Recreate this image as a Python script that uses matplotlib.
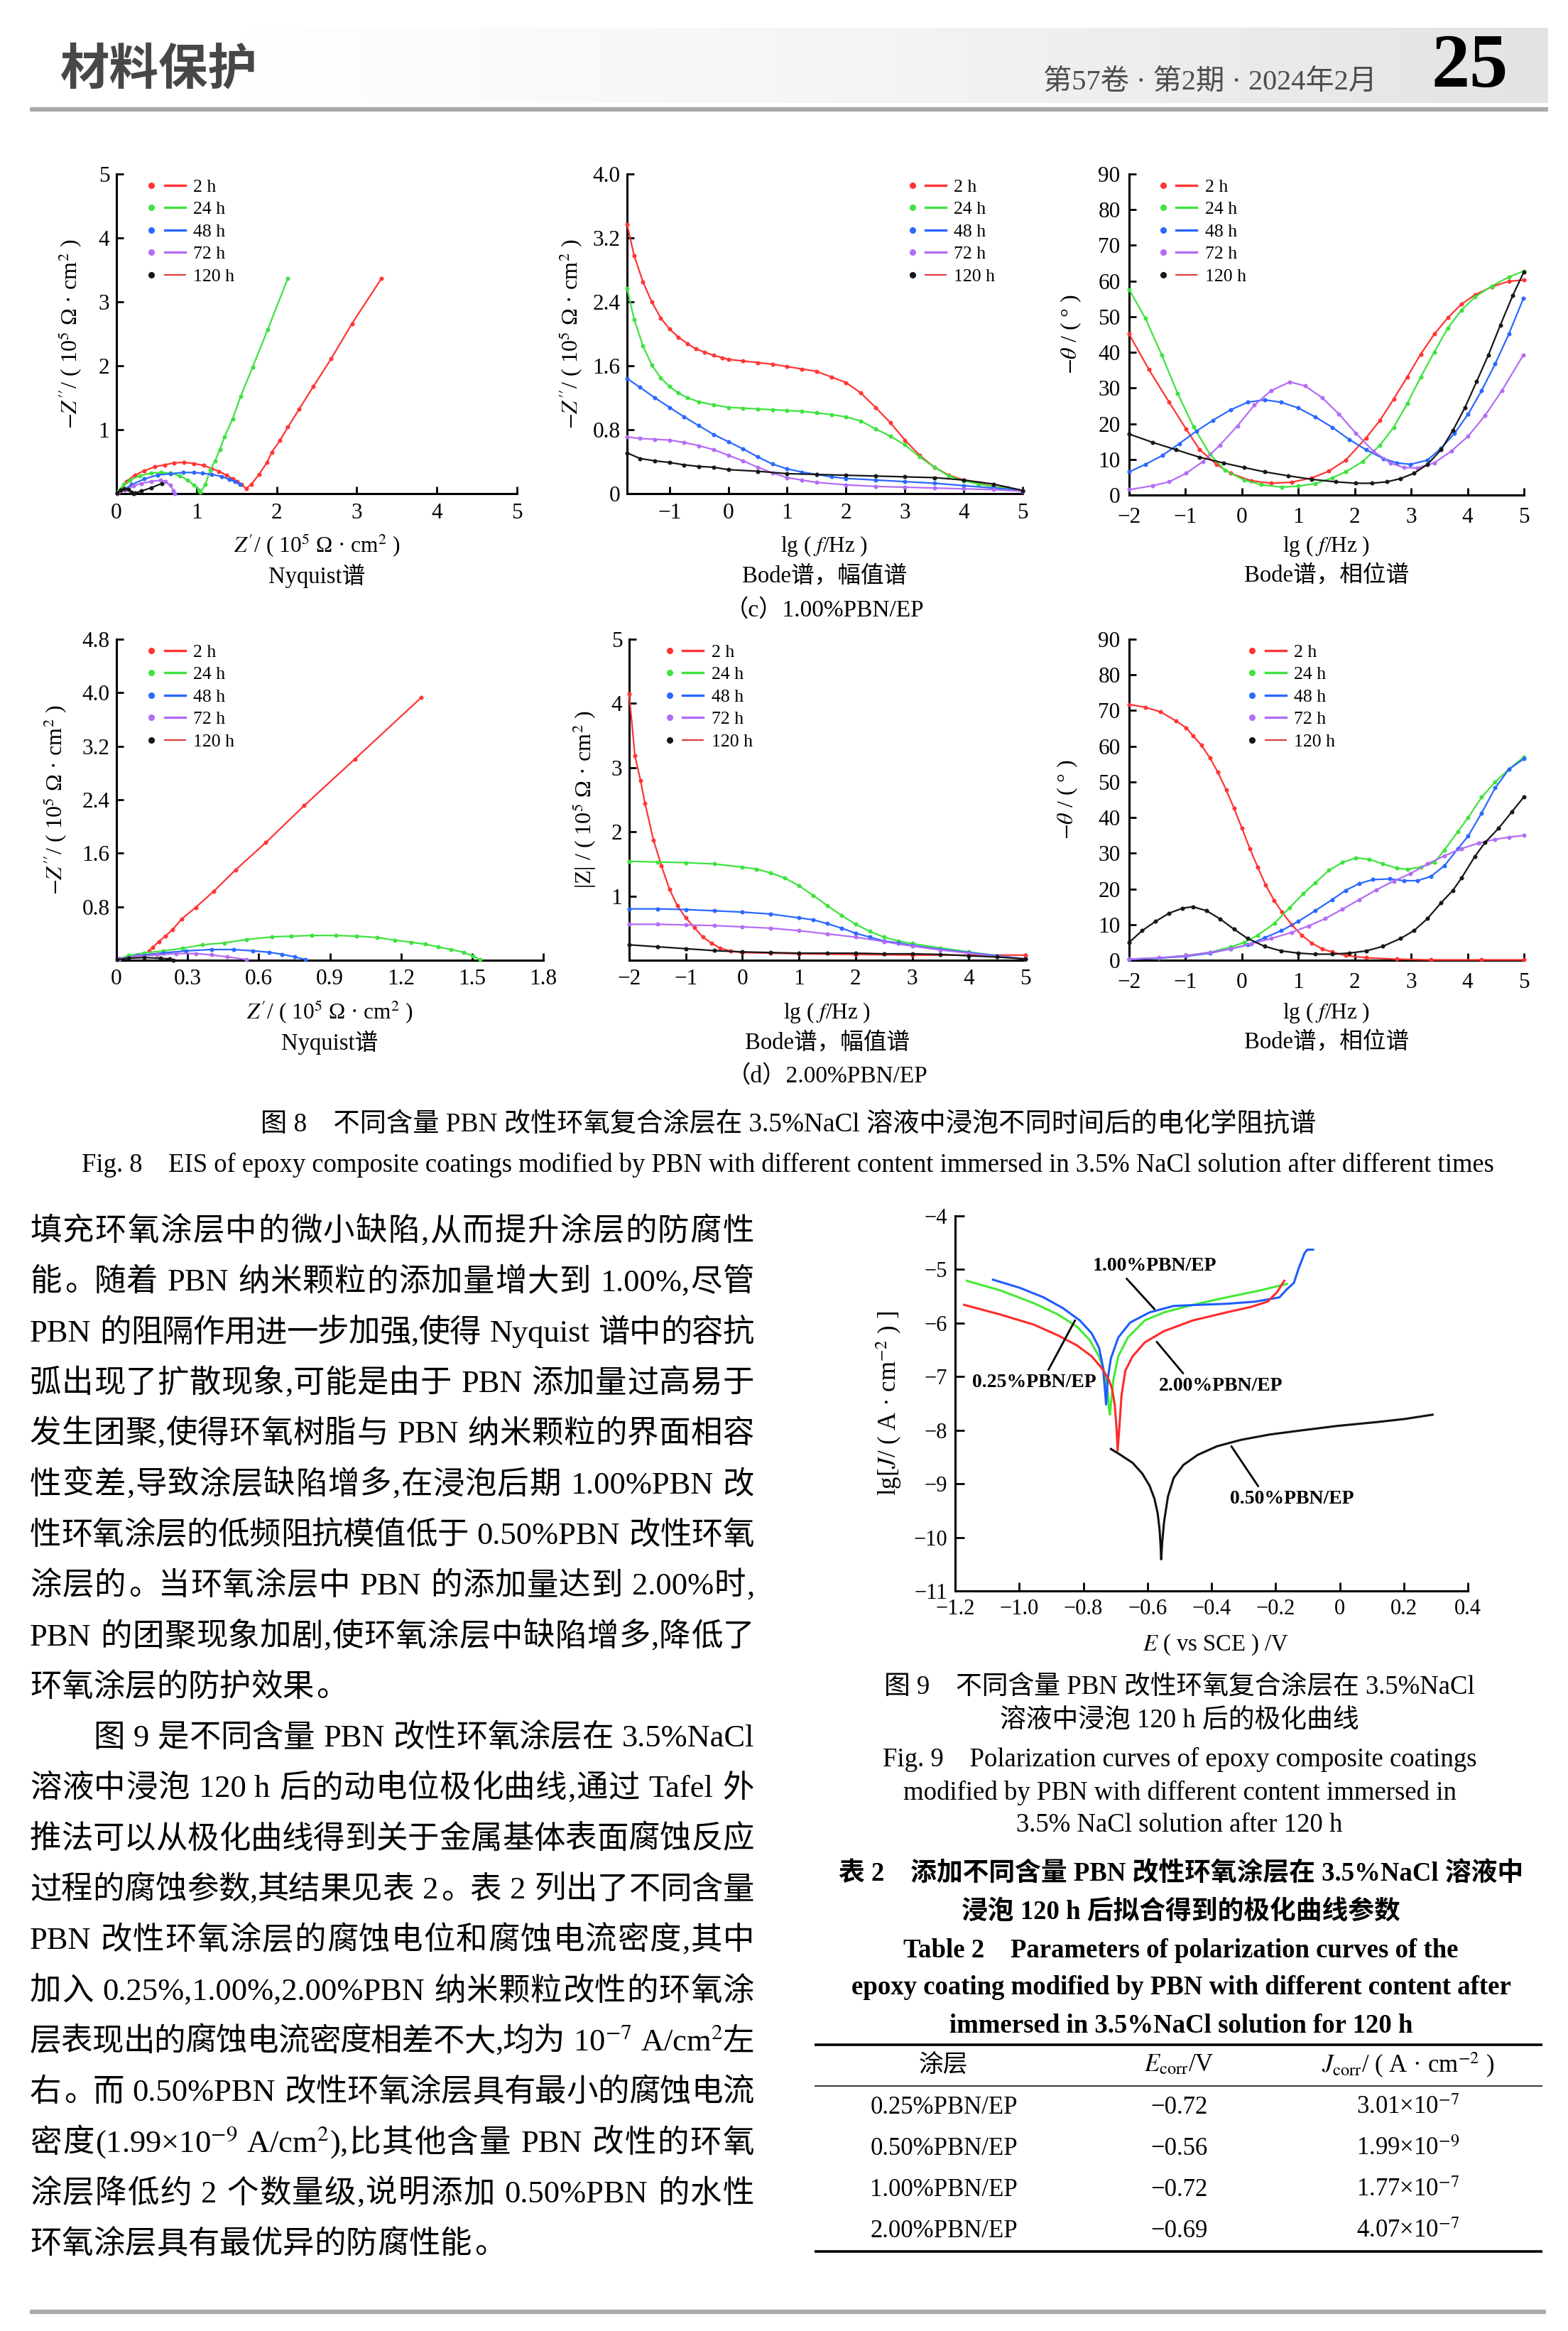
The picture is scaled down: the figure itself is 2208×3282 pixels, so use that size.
import re
import numpy as np
import matplotlib
matplotlib.use('Agg')
import matplotlib.pyplot as plt
from matplotlib.lines import Line2D
from matplotlib.legend_handler import HandlerTuple
from matplotlib.colors import LinearSegmentedColormap

W, H = 2208, 3282
FAM = ['Liberation Serif', 'Noto Sans CJK SC', 'DejaVu Sans']
plt.rcParams['font.family'] = FAM
plt.rcParams['mathtext.fontset'] = 'stix'
plt.rcParams['axes.unicode_minus'] = True

# ------------------------------------------------------------------ data
times = ['2 h', '24 h', '48 h', '72 h', '120 h']
colors = ['#ff3434', '#3fe23f', '#2a68ff', '#b36cf5', '#161616']

# (c) 1.00% PBN/EP  Nyquist
c_nyq_2h_x = [0.03, 0.12, 0.23, 0.35, 0.48, 0.60, 0.72, 0.84, 0.97, 1.09, 1.19, 1.28, 1.37, 1.45, 1.51, 1.56, 1.62,
              1.68, 1.78, 1.88, 1.94, 2.04, 2.14, 2.28, 2.46, 2.68, 2.94, 3.31]
c_nyq_2h_y = [0.02, 0.19, 0.29, 0.36, 0.42, 0.45, 0.48, 0.49, 0.47, 0.44, 0.39, 0.35, 0.29, 0.23, 0.19, 0.14, 0.08,
              0.14, 0.30, 0.49, 0.65, 0.83, 1.04, 1.32, 1.68, 2.11, 2.66, 3.37]
c_nyq_24h_x = [0.03, 0.09, 0.17, 0.29, 0.43, 0.56, 0.67, 0.79, 0.89, 0.97, 1.03, 1.05, 1.11, 1.17, 1.23, 1.29, 1.35,
               1.45, 1.55, 1.70, 1.89, 2.14]
c_nyq_24h_y = [0.05, 0.14, 0.21, 0.28, 0.32, 0.33, 0.32, 0.28, 0.21, 0.13, 0.06, 0.02, 0.14, 0.37, 0.51, 0.69, 0.89,
               1.17, 1.52, 1.98, 2.57, 3.37]
c_nyq_48h_x = [0.01, 0.19, 0.35, 0.51, 0.67, 0.83, 0.97, 1.07, 1.19, 1.31, 1.41, 1.48, 1.54]
c_nyq_48h_y = [0.0, 0.14, 0.23, 0.29, 0.31, 0.33, 0.33, 0.32, 0.30, 0.27, 0.22, 0.19, 0.15]
c_nyq_72h_x = [0.01, 0.11, 0.21, 0.31, 0.43, 0.55, 0.61, 0.67, 0.71, 0.73]
c_nyq_72h_y = [0.0, 0.06, 0.12, 0.16, 0.19, 0.21, 0.19, 0.13, 0.05, 0.0]
c_nyq_120h_x = [0.01, 0.05, 0.10, 0.15, 0.19, 0.21, 0.23, 0.31, 0.43, 0.57]
c_nyq_120h_y = [0.01, 0.06, 0.08, 0.07, 0.02, 0.0, 0.01, 0.04, 0.09, 0.16]

# (c) Bode modulus-like plot
c_amp_2h_f = [-1.72, -1.6, -1.45, -1.3, -1.15, -1.0, -0.85, -0.7, -0.55, -0.4, -0.25, -0.1, 0, 0.25, 0.5, 0.75, 1.0,
              1.25, 1.5, 1.75, 2.0, 2.25, 2.5, 2.75, 3.0, 3.25, 3.5, 3.75, 4.0, 4.25, 4.5, 4.75, 5.0]
c_amp_2h = [3.37, 2.98, 2.65, 2.40, 2.20, 2.06, 1.96, 1.88, 1.81, 1.77, 1.73, 1.70, 1.68, 1.66, 1.64, 1.62, 1.59,
            1.56, 1.53, 1.46, 1.39, 1.26, 1.08, 0.89, 0.67, 0.48, 0.33, 0.23, 0.17, 0.13, 0.09, 0.07, 0.04]
c_amp_24h_f = [-1.72, -1.6, -1.45, -1.3, -1.15, -1.0, -0.85, -0.7, -0.5, -0.25, 0, 0.25, 0.5, 0.75, 1.0, 1.25, 1.5,
               1.75, 2.0, 2.25, 2.5, 2.75, 3.0, 3.25, 3.5, 3.75, 4.0, 4.25, 4.5, 4.75, 5.0]
c_amp_24h = [2.57, 2.18, 1.85, 1.61, 1.45, 1.34, 1.26, 1.20, 1.15, 1.11, 1.08, 1.07, 1.06, 1.05, 1.04, 1.03, 1.01,
             0.99, 0.96, 0.91, 0.81, 0.72, 0.61, 0.46, 0.33, 0.22, 0.16, 0.12, 0.09, 0.06, 0.04]
c_amp_48h_f = [-1.72, -1.5, -1.25, -1.0, -0.75, -0.5, -0.25, 0, 0.25, 0.5, 0.75, 1.0, 1.25, 1.5, 1.75, 2.0, 2.5, 3.0,
               3.5, 4.0, 4.5, 5.0]
c_amp_48h = [1.44, 1.33, 1.20, 1.08, 0.96, 0.85, 0.74, 0.65, 0.56, 0.46, 0.37, 0.31, 0.27, 0.24, 0.21, 0.19, 0.17,
             0.15, 0.13, 0.10, 0.07, 0.04]
c_amp_72h_f = [-1.72, -1.5, -1.25, -1.0, -0.75, -0.5, -0.25, 0, 0.25, 0.5, 0.75, 1.0, 1.25, 1.5, 2.0, 2.5, 3.0, 3.5,
               4.0, 4.5, 5.0]
c_amp_72h = [0.71, 0.69, 0.68, 0.67, 0.64, 0.60, 0.55, 0.48, 0.41, 0.33, 0.26, 0.20, 0.17, 0.14, 0.11, 0.09, 0.08,
             0.07, 0.06, 0.05, 0.03]
c_amp_120h_f = [-1.72, -1.5, -1.25, -1.0, -0.75, -0.5, -0.25, 0, 0.5, 1.0, 1.5, 2.0, 2.5, 3.0, 3.5, 4.0, 4.5, 5.0]
c_amp_120h = [0.51, 0.44, 0.41, 0.39, 0.36, 0.34, 0.33, 0.30, 0.28, 0.25, 0.24, 0.23, 0.22, 0.21, 0.20, 0.17, 0.12,
              0.04]

# (c) Bode phase
c_ph_2h_f = [-2.0, -1.65, -1.29, -0.99, -0.75, -0.45, -0.20, 0.16, 0.52, 0.88, 1.24, 1.54, 1.84, 2.20, 2.45, 2.69,
             2.93, 3.17, 3.41, 3.65, 3.89, 4.13, 4.43, 4.73, 5.0]
c_ph_2h = [45.1, 35.2, 26.0, 18.5, 12.7, 8.6, 6.1, 4.0, 3.3, 3.6, 4.8, 6.7, 9.8, 16.0, 21.0, 26.9, 33.1, 39.5, 45.1,
           49.7, 53.5, 56.1, 58.4, 59.9, 60.3]
c_ph_24h_f = [-2.0, -1.71, -1.42, -1.14, -0.86, -0.57, -0.30, 0.04, 0.34, 0.71, 1.0, 1.30, 1.60, 1.84, 2.14, 2.45,
              2.69, 2.93, 3.17, 3.41, 3.65, 3.89, 4.13, 4.43, 4.73, 5.0]
c_ph_24h = [57.6, 49.5, 39.2, 28.5, 19.2, 11.5, 6.9, 4.2, 2.9, 2.2, 2.5, 3.2, 4.8, 6.5, 9.4, 14.0, 19.0, 25.6, 33.1,
            40.1, 46.8, 51.8, 55.5, 58.6, 61.1, 62.8]
c_ph_48h_f = [-2.0, -1.71, -1.41, -1.11, -0.81, -0.51, -0.20, 0.10, 0.40, 0.70, 1.0, 1.30, 1.60, 1.90, 2.20, 2.51,
              2.75, 2.99, 3.29, 3.53, 3.77, 4.01, 4.25, 4.49, 4.73, 4.99]
c_ph_48h = [6.5, 8.6, 11.1, 14.4, 17.9, 21.0, 23.9, 26.0, 26.7, 26.0, 24.4, 21.9, 19.0, 15.6, 12.7, 10.2, 9.0, 8.6,
            9.8, 13.1, 17.3, 22.7, 29.3, 36.8, 45.1, 55.1]
c_ph_72h_f = [-2.0, -1.59, -1.29, -0.99, -0.69, -0.39, -0.08, 0.22, 0.52, 0.85, 1.12, 1.42, 1.72, 2.02, 2.33, 2.63,
              2.87, 3.11, 3.41, 3.71, 4.01, 4.31, 4.61, 4.99]
c_ph_72h = [1.5, 2.6, 3.7, 6.1, 9.4, 14.0, 19.4, 25.2, 29.3, 31.7, 30.6, 27.3, 22.7, 17.3, 12.3, 9.0, 7.7, 7.6, 9.0,
            12.3, 16.5, 22.3, 29.3, 39.3]
c_ph_120h_f = [-2.0, -1.59, -1.17, -0.75, -0.33, 0.04, 0.40, 0.82, 1.24, 1.66, 2.02, 2.30, 2.57, 2.81, 3.05, 3.29,
               3.53, 3.74, 3.95, 4.16, 4.37, 4.58, 4.80, 5.0]
c_ph_120h = [17.1, 14.8, 12.7, 10.6, 9.0, 7.7, 6.5, 5.4, 4.4, 3.7, 3.3, 3.3, 3.7, 4.6, 6.1, 8.6, 12.7, 18.1, 24.4,
             31.8, 39.3, 47.6, 55.9, 62.6]

# (d) 2.00% PBN/EP Nyquist
d_nyq_2h_x = [0.139, 0.152, 0.179, 0.206, 0.237, 0.276, 0.334, 0.410, 0.502, 0.630, 0.791, 1.006, 1.286]
d_nyq_2h_y = [0.14, 0.19, 0.28, 0.36, 0.46, 0.62, 0.79, 1.03, 1.35, 1.76, 2.31, 3.01, 3.93]
d_nyq_24h_x = [0.011, 0.051, 0.118, 0.199, 0.280, 0.361, 0.455, 0.549, 0.657, 0.737, 0.825, 0.926, 1.013, 1.10,
               1.174, 1.242, 1.302, 1.356, 1.41, 1.464, 1.504, 1.534]
d_nyq_24h_y = [0.02, 0.07, 0.11, 0.14, 0.18, 0.23, 0.26, 0.31, 0.35, 0.36, 0.37, 0.37, 0.36, 0.34, 0.30, 0.27, 0.24,
               0.20, 0.16, 0.12, 0.06, 0.01]
d_nyq_48h_x = [0.011, 0.091, 0.199, 0.293, 0.40, 0.495, 0.576, 0.643, 0.697, 0.751, 0.798]
d_nyq_48h_y = [0.02, 0.07, 0.11, 0.14, 0.16, 0.16, 0.14, 0.12, 0.09, 0.05, 0.01]
d_nyq_72h_x = [0.011, 0.091, 0.172, 0.253, 0.334, 0.40, 0.468, 0.549]
d_nyq_72h_y = [0.02, 0.06, 0.08, 0.10, 0.10, 0.08, 0.05, 0.01]
d_nyq_120h_x = [0.004, 0.051, 0.118, 0.186, 0.226, 0.24]
d_nyq_120h_y = [0.01, 0.03, 0.04, 0.03, 0.02, 0.0]

# (d) Bode |Z|
d_amp_2h_f = [-2.0, -1.9, -1.8, -1.72, -1.57, -1.43, -1.29, -1.15, -1.0, -0.85, -0.7, -0.55, -0.4, -0.2, 0.0, 0.5,
              1.0, 2.0, 3.0, 4.0, 5.0]
d_amp_2h = [4.15, 3.19, 2.80, 2.44, 1.87, 1.47, 1.11, 0.85, 0.66, 0.51, 0.36, 0.27, 0.19, 0.14, 0.12, 0.11, 0.10,
            0.09, 0.08, 0.08, 0.08]
d_amp_24h_f = [-2.0, -1.5, -1.0, -0.5, 0.0, 0.25, 0.5, 0.75, 1.0, 1.25, 1.5, 1.75, 2.0, 2.25, 2.5, 2.75, 3.0, 3.5,
               4.0, 4.5, 5.0]
d_amp_24h = [1.54, 1.53, 1.52, 1.50, 1.45, 1.42, 1.36, 1.28, 1.16, 1.01, 0.85, 0.70, 0.56, 0.45, 0.36, 0.30, 0.26,
             0.19, 0.13, 0.07, 0.02]
d_amp_48h_f = [-2.0, -1.5, -1.0, -0.5, 0.0, 0.5, 1.0, 1.25, 1.5, 1.75, 2.0, 2.25, 2.5, 2.75, 3.0, 3.5, 4.0, 4.5, 5.0]
d_amp_48h = [0.80, 0.80, 0.79, 0.77, 0.75, 0.72, 0.66, 0.63, 0.57, 0.50, 0.42, 0.36, 0.30, 0.27, 0.23, 0.17, 0.12,
             0.07, 0.02]
d_amp_72h_f = [-2.0, -1.5, -1.0, -0.5, 0.0, 0.5, 1.0, 1.5, 2.0, 2.5, 3.0, 3.5, 4.0, 4.5, 5.0]
d_amp_72h = [0.56, 0.56, 0.55, 0.54, 0.52, 0.50, 0.46, 0.41, 0.36, 0.29, 0.22, 0.16, 0.11, 0.06, 0.02]
d_amp_120h_f = [-2.0, -1.5, -1.0, -0.5, 0.0, 0.5, 1.0, 1.5, 2.0, 2.5, 3.0, 3.5, 4.0, 4.5, 5.0]
d_amp_120h = [0.24, 0.21, 0.18, 0.15, 0.13, 0.12, 0.11, 0.11, 0.11, 0.10, 0.10, 0.09, 0.07, 0.05, 0.02]

# (d) Bode phase
d_ph_2h_f = [-2.0, -1.71, -1.44, -1.17, -0.99, -0.87, -0.72, -0.57, -0.43, -0.28, -0.14, 0.0, 0.14, 0.28, 0.42, 0.57,
             0.71, 0.88, 1.06, 1.24, 1.42, 1.60, 1.84, 2.20, 2.75, 3.35, 4.25, 5.0]
d_ph_2h = [71.7, 70.9, 69.6, 67.1, 65.2, 63.0, 60.3, 56.8, 52.8, 47.8, 42.6, 37.0, 31.3, 26.1, 21.1, 16.8, 13.5, 10.0,
           7.0, 4.8, 3.2, 2.3, 1.3, 0.7, 0.3, 0.1, 0.1, 0.1]
d_ph_24h_f = [-2.0, -1.47, -0.99, -0.57, -0.20, 0.04, 0.28, 0.58, 0.85, 1.09, 1.30, 1.54, 1.78, 2.02, 2.26, 2.50,
              2.75, 2.93, 3.17, 3.41, 3.59, 3.83, 4.01, 4.25, 4.49, 4.73, 5.0]
d_ph_24h = [0.3, 0.6, 1.3, 2.2, 3.7, 5.0, 7.0, 10.4, 14.8, 18.7, 21.7, 25.2, 27.4, 28.7, 28.3, 27.0, 25.8, 25.5, 26.1,
            27.4, 30.9, 36.1, 40.0, 45.7, 50.0, 53.5, 57.0]
d_ph_48h_f = [-2.0, -1.47, -0.99, -0.57, -0.20, 0.10, 0.40, 0.70, 1.0, 1.30, 1.60, 1.84, 2.08, 2.32, 2.62, 2.87,
              3.11, 3.35, 3.59, 3.83, 4.01, 4.25, 4.49, 4.73, 5.0]
d_ph_48h = [0.2, 0.6, 1.1, 2.0, 3.2, 4.3, 6.3, 8.3, 10.9, 13.9, 17.0, 19.6, 21.5, 22.6, 22.8, 22.3, 22.3, 23.5, 26.5,
            31.3, 34.8, 41.3, 48.3, 53.5, 56.5]
d_ph_72h_f = [-2.0, -1.47, -0.99, -0.57, -0.20, 0.16, 0.52, 0.88, 1.18, 1.48, 1.78, 2.08, 2.38, 2.69, 2.99, 3.29,
              3.59, 3.89, 4.19, 4.49, 4.73, 5.0]
d_ph_72h = [0.3, 0.7, 1.3, 2.2, 3.2, 4.6, 6.1, 7.8, 9.6, 11.7, 14.3, 17.0, 19.7, 22.2, 24.3, 27.0, 29.3, 31.3, 32.8,
            33.9, 34.5, 35.0]
d_ph_120h_f = [-2.0, -1.77, -1.53, -1.29, -1.05, -0.87, -0.63, -0.39, -0.14, 0.10, 0.40, 0.70, 1.0, 1.30, 1.60, 1.90,
               2.20, 2.50, 2.81, 3.05, 3.29, 3.53, 3.74, 3.89, 4.13, 4.31, 4.55, 4.79, 5.0]
d_ph_120h = [5.0, 8.3, 10.9, 13.2, 14.6, 15.0, 13.9, 11.6, 8.7, 6.1, 3.9, 2.6, 2.0, 1.7, 1.7, 2.0, 2.6, 3.9, 6.1, 8.3,
             11.7, 16.1, 19.6, 23.0, 29.1, 33.0, 37.0, 41.7, 45.8]

# Fig. 9 polarization curves (E in V vs SCE, lg J)
pol_labels = ['0.25%PBN/EP', '0.50%PBN/EP', '1.00%PBN/EP', '2.00%PBN/EP']
pol_025_E = [-1.164, -1.059, -0.954, -0.879, -0.819, -0.781, -0.751, -0.733, -0.724, -0.720, -0.717, -0.714, -0.706,
             -0.691, -0.661, -0.608, -0.548, -0.458, -0.353, -0.248, -0.165]
pol_025_J = [-5.21, -5.39, -5.63, -5.84, -6.07, -6.31, -6.62, -6.93, -7.28, -7.60, -7.71, -7.52, -7.05, -6.62, -6.27,
             -5.95, -5.80, -5.66, -5.52, -5.39, -5.27]
pol_050_E = [-0.714, -0.684, -0.646, -0.616, -0.593, -0.578, -0.568, -0.562, -0.559, -0.557, -0.554, -0.548, -0.536,
             -0.518, -0.488, -0.443, -0.383, -0.308, -0.218, -0.128, -0.008, 0.113, 0.203, 0.290]
pol_050_J = [-8.35, -8.46, -8.61, -8.81, -9.04, -9.28, -9.55, -9.86, -10.14, -10.41, -10.10, -9.71, -9.24, -8.89,
             -8.65, -8.46, -8.30, -8.18, -8.08, -8.01, -7.92, -7.85, -7.79, -7.71]
pol_100_E = [-1.082, -0.999, -0.924, -0.864, -0.811, -0.774, -0.751, -0.739, -0.733, -0.729, -0.724, -0.714, -0.691,
             -0.654, -0.593, -0.518, -0.443, -0.353, -0.263, -0.188, -0.165, -0.143, -0.128, -0.110, -0.101, -0.083]
pol_100_J = [-5.19, -5.34, -5.52, -5.72, -5.95, -6.19, -6.46, -6.81, -7.21, -7.52, -7.05, -6.66, -6.27, -5.99, -5.80,
             -5.68, -5.66, -5.64, -5.60, -5.52, -5.37, -5.25, -4.98, -4.70, -4.63, -4.63]
pol_200_E = [-1.172, -1.059, -0.954, -0.879, -0.819, -0.774, -0.744, -0.721, -0.711, -0.702, -0.696, -0.693, -0.688,
             -0.681, -0.669, -0.646, -0.608, -0.548, -0.458, -0.353, -0.278, -0.225, -0.195, -0.173]
pol_200_J = [-5.66, -5.84, -6.03, -6.23, -6.42, -6.62, -6.83, -7.05, -7.21, -7.52, -7.99, -8.38, -7.99, -7.36, -6.89,
             -6.62, -6.36, -6.15, -5.95, -5.80, -5.70, -5.60, -5.42, -5.21]
pol_xticks = [-1.2, -1.0, -0.8, -0.6, -0.4, -0.2, 0.0, 0.2, 0.4]
pol_xticklabels = ['−1.2', '−1.0', '−0.8', '−0.6', '−0.4', '−0.2', '0', '0.2', '0.4']
pol_yticks = [-4, -5, -6, -7, -8, -9, -10, -11]

# Table 2
tab_coating = ['0.25%PBN/EP', '0.50%PBN/EP', '1.00%PBN/EP', '2.00%PBN/EP']
tab_ecorr = [-0.72, -0.56, -0.72, -0.69]
tab_jcorr_mant = [3.01, 1.99, 1.77, 4.07]
tab_jcorr_exp = [-7, -9, -7, -7]

body_lines = [
    "填充环氧涂层中的微小缺陷,从而提升涂层的防腐性",
    "能。随着 PBN 纳米颗粒的添加量增大到 1.00%,尽管",
    "PBN 的阻隔作用进一步加强,使得 Nyquist 谱中的容抗",
    "弧出现了扩散现象,可能是由于 PBN 添加量过高易于",
    "发生团聚,使得环氧树脂与 PBN 纳米颗粒的界面相容",
    "性变差,导致涂层缺陷增多,在浸泡后期 1.00%PBN 改",
    "性环氧涂层的低频阻抗模值低于 0.50%PBN 改性环氧",
    "涂层的。当环氧涂层中 PBN 的添加量达到 2.00%时,",
    "PBN 的团聚现象加剧,使环氧涂层中缺陷增多,降低了",
    "环氧涂层的防护效果。",
    "图 9 是不同含量 PBN 改性环氧涂层在 3.5%NaCl",
    "溶液中浸泡 120 h 后的动电位极化曲线,通过 Tafel 外",
    "推法可以从极化曲线得到关于金属基体表面腐蚀反应",
    "过程的腐蚀参数,其结果见表 2。表 2 列出了不同含量",
    "PBN 改性环氧涂层的腐蚀电位和腐蚀电流密度,其中",
    "加入 0.25%,1.00%,2.00%PBN 纳米颗粒改性的环氧涂",
    "层表现出的腐蚀电流密度相差不大,均为 10$^{-7}$ A/cm$^{2}$左",
    "右。而 0.50%PBN 改性环氧涂层具有最小的腐蚀电流",
    "密度(1.99×10$^{-9}$ A/cm$^{2}$),比其他含量 PBN 改性的环氧",
    "涂层降低约 2 个数量级,说明添加 0.50%PBN 的水性",
    "环氧涂层具有最优异的防腐性能。",
]
body_last = {9, 20}
body_indent = {10}

# ------------------------------------------------------------------ figure
fig = plt.figure(figsize=(W / 100, H / 100), dpi=100)
fig.patch.set_facecolor('white')


def rect(l, t, r, b):
    return [l / W, 1 - b / H, (r - l) / W, (b - t) / H]


def ftext(x, y, s, **kw):
    return fig.text(x / W, 1 - y / H, s, **kw)


def hline(x0, x1, y, lw, color='black'):
    fig.add_artist(Line2D([x0 / W, x1 / W], [1 - y / H, 1 - y / H], lw=lw, color=color,
                          transform=fig.transFigure, solid_capstyle='butt'))


# header
hax = fig.add_axes(rect(340, 39, 2180, 145))
hax.imshow(np.linspace(0, 1, 512)[None, :], aspect='auto', extent=(0, 1, 0, 1),
           cmap=LinearSegmentedColormap.from_list('hdr', ['#ffffff', '#f4f4f4', '#e3e3e3']))
hax.axis('off')
hline(42, 2180, 154, lw=4.5, color='#a9a9a9')
ftext(85, 98, '材料保护', fontsize=50, fontweight='bold', color='#474747',
      family=['Noto Sans CJK SC'], ha='left', va='center')
ftext(1939, 116, '第57卷 · 第2期 · 2024年2月', fontsize=29, color='#4d4d4d', ha='right', va='center')
ftext(2070, 96, '25', fontsize=78, fontweight='bold', ha='center', va='center', color='black')

TICK_FS = 22.5


def make_ax(l, t, r, b, xpad=9, ypad=7):
    ax = fig.add_axes(rect(l, t, r, b))
    for s in ('top', 'right'):
        ax.spines[s].set_visible(False)
    for s in ('left', 'bottom'):
        ax.spines[s].set_linewidth(2.2)
    ax.tick_params(direction='in', length=7, width=2, labelsize=TICK_FS)
    ax.tick_params(axis='x', pad=xpad)
    ax.tick_params(axis='y', pad=ypad)
    ax.set_facecolor('none')
    return ax


def draw_series(ax, xs, ys):
    for x, y, c in zip(xs, ys, colors):
        ax.plot(x, y, '-', color=c, lw=1.6, marker='o', ms=3.8, mfc=c, mec=c, mew=0.5,
                clip_on=False, zorder=3)


def add_legend(ax, ax_x, ax_y):
    handles = []
    for c, lab in zip(colors, times):
        mk = Line2D([], [], ls='none', marker='o', ms=5.5, color=c)
        if lab == '120 h':
            ln = Line2D([], [], color='#d81c1c', lw=1.3)
        else:
            ln = Line2D([], [], color=c, lw=2.4)
        handles.append((mk, ln))
    ax.legend(handles, times, handler_map={tuple: HandlerTuple(ndivide=2, pad=0.15)},
              loc='upper left', bbox_to_anchor=(ax_x, ax_y), frameon=False, fontsize=18.5,
              handlelength=2.4, handletextpad=0.45, labelspacing=0.33, borderpad=0, borderaxespad=0)


YLAB_FS = 23


def ylab(ax, xf, s):
    ax.text(xf, 0.5, s, transform=ax.transAxes, rotation=90, ha='center', va='center', fontsize=YLAB_FS)


ylab_nyq = r"$-Z''$/ ( 10$^{5}$ Ω · cm$^{2}$ )"
xlab_nyq = r"$Z'$/ ( 10$^{5}$ Ω · cm$^{2}$ )"
xlab_bode = r"lg ( $f$/Hz )"
ylab_phase = r"$-\theta$ / ( ° )"
ylab_mod = r"|Z| / ( 10$^{5}$ Ω · cm$^{2}$ )"

# ---- row (c)
A1 = make_ax(164, 245, 728, 695)
draw_series(A1, [c_nyq_2h_x, c_nyq_24h_x, c_nyq_48h_x, c_nyq_72h_x, c_nyq_120h_x],
            [c_nyq_2h_y, c_nyq_24h_y, c_nyq_48h_y, c_nyq_72h_y, c_nyq_120h_y])
A1.set_xlim(0, 5); A1.set_ylim(0, 5)
A1.set_xticks([0, 1, 2, 3, 4, 5]); A1.set_yticks([1, 2, 3, 4, 5])
add_legend(A1, 0.062, 0.985)
ylab(A1, -0.117, ylab_nyq)

A2 = make_ax(883, 245, 1440, 695)
draw_series(A2, [c_amp_2h_f, c_amp_24h_f, c_amp_48h_f, c_amp_72h_f, c_amp_120h_f],
            [c_amp_2h, c_amp_24h, c_amp_48h, c_amp_72h, c_amp_120h])
A2.set_xlim(-1.72, 5); A2.set_ylim(0, 4.0)
A2.set_xticks([-1, 0, 1, 2, 3, 4, 5]); A2.set_yticks([0, 0.8, 1.6, 2.4, 3.2, 4.0])
A2.set_yticklabels(['0', '0.8', '1.6', '2.4', '3.2', '4.0'])
add_legend(A2, 0.695, 0.985)
ylab(A2, -0.144, ylab_nyq)

A3 = make_ax(1590, 245, 2146, 697, xpad=12, ypad=9)
draw_series(A3, [c_ph_2h_f, c_ph_24h_f, c_ph_48h_f, c_ph_72h_f, c_ph_120h_f],
            [c_ph_2h, c_ph_24h, c_ph_48h, c_ph_72h, c_ph_120h])
A3.set_xlim(-2, 5); A3.set_ylim(0, 90)
A3.set_xticks(range(-2, 6)); A3.set_yticks(range(0, 91, 10))
add_legend(A3, 0.06, 0.985)
ylab(A3, -0.147, ylab_phase)

# ---- row (d)
B1 = make_ax(164, 900, 765, 1352)
draw_series(B1, [d_nyq_2h_x, d_nyq_24h_x, d_nyq_48h_x, d_nyq_72h_x, d_nyq_120h_x],
            [d_nyq_2h_y, d_nyq_24h_y, d_nyq_48h_y, d_nyq_72h_y, d_nyq_120h_y])
B1.set_xlim(0, 1.8); B1.set_ylim(0, 4.8)
B1.set_xticks([0, 0.3, 0.6, 0.9, 1.2, 1.5, 1.8]); B1.set_xticklabels(['0', '0.3', '0.6', '0.9', '1.2', '1.5', '1.8'])
B1.set_yticks([0.8, 1.6, 2.4, 3.2, 4.0, 4.8]); B1.set_yticklabels(['0.8', '1.6', '2.4', '3.2', '4.0', '4.8'])
add_legend(B1, 0.058, 0.985)
ylab(B1, -0.145, ylab_nyq)

B2 = make_ax(886, 900, 1444, 1352)
draw_series(B2, [d_amp_2h_f, d_amp_24h_f, d_amp_48h_f, d_amp_72h_f, d_amp_120h_f],
            [d_amp_2h, d_amp_24h, d_amp_48h, d_amp_72h, d_amp_120h])
B2.set_xlim(-2, 5); B2.set_ylim(0, 5)
B2.set_xticks(range(-2, 6)); B2.set_yticks([1, 2, 3, 4, 5])
add_legend(B2, 0.076, 0.985)
ylab(B2, -0.113, ylab_mod)

B3 = make_ax(1590, 900, 2146, 1352, xpad=12, ypad=9)
draw_series(B3, [d_ph_2h_f, d_ph_24h_f, d_ph_48h_f, d_ph_72h_f, d_ph_120h_f],
            [d_ph_2h, d_ph_24h, d_ph_48h, d_ph_72h, d_ph_120h])
B3.set_xlim(-2, 5); B3.set_ylim(0, 90)
B3.set_xticks(range(-2, 6)); B3.set_yticks(range(0, 91, 10))
add_legend(B3, 0.286, 0.985)
ylab(B3, -0.156, ylab_phase)

# row captions
XL_FS, SUB_FS = 22.5, 23.5
for cx, xl, sub in [(446, xlab_nyq, 'Nyquist谱'), (1161, xlab_bode, 'Bode谱，幅值谱'), (1868, xlab_bode, 'Bode谱，相位谱')]:
    ftext(cx, 769, xl, fontsize=XL_FS, ha='center', va='center')
    ftext(cx, 811, sub, fontsize=SUB_FS, ha='center', va='center')
ftext(1161, 859, '（c）1.00%PBN/EP', fontsize=24, ha='center', va='center')
for cx, xl, sub in [(464, xlab_nyq, 'Nyquist谱'), (1165, xlab_bode, 'Bode谱，幅值谱'), (1868, xlab_bode, 'Bode谱，相位谱')]:
    ftext(cx, 1426, xl, fontsize=XL_FS, ha='center', va='center')
    ftext(cx, 1468, sub, fontsize=SUB_FS, ha='center', va='center')
ftext(1165, 1515, '（d）2.00%PBN/EP', fontsize=24, ha='center', va='center')

ftext(1110, 1584, '图 8　不同含量 PBN 改性环氧复合涂层在 3.5%NaCl 溶液中浸泡不同时间后的电化学阻抗谱',
      fontsize=26.8, ha='center', va='center')
ftext(1109, 1640, 'Fig. 8　EIS of epoxy composite coatings modified by PBN with different content immersed in '
                  '3.5% NaCl solution after different times', fontsize=26.4, ha='center', va='center')

# ---- Fig. 9
P = make_ax(1345, 1712, 2067, 2240)
P.tick_params(labelsize=22, length=9, pad=8)
for E, J, c in [(pol_025_E, pol_025_J, '#45ea35'), (pol_100_E, pol_100_J, '#1f5cff'),
                (pol_200_E, pol_200_J, '#ff2a2a'), (pol_050_E, pol_050_J, '#111111')]:
    P.plot(E, J, '-', color=c, lw=2.2, zorder=3)
P.set_xlim(-1.2, 0.4); P.set_ylim(-11, -4)
P.set_xticks(pol_xticks); P.set_xticklabels(pol_xticklabels)
P.set_yticks(pol_yticks)
P.text(-0.13, 0.5, r"lg[$J$/ ( A · cm$^{-2}$ ) ]", transform=P.transAxes, rotation=90,
       ha='center', va='center', fontsize=25)
ftext(1712, 2316, r"$E$ ( vs SCE ) /V", fontsize=23.5, ha='center', va='center')
ann = dict(fontsize=20, fontweight='bold', ha='center', va='center')
lp = dict(arrowstyle='-', color='black', lw=2.0, shrinkA=2, shrinkB=0)
P.annotate(pol_labels[2], xy=(-0.578, -5.74), xytext=(-0.578, -4.94), arrowprops=dict(lp, relpos=(0.25, 0.0)), **ann)
P.annotate(pol_labels[0], xy=(-0.826, -5.95), xytext=(-0.954, -7.11), arrowprops=dict(lp, relpos=(0.6, 1.0)), **ann)
P.annotate(pol_labels[3], xy=(-0.571, -6.35), xytext=(-0.371, -7.17), arrowprops=dict(lp, relpos=(0.22, 1.0)), **ann)
P.annotate(pol_labels[1], xy=(-0.338, -8.30), xytext=(-0.150, -9.28), arrowprops=dict(lp, relpos=(0.25, 1.0)), **ann)

cap9 = ['图 9　不同含量 PBN 改性环氧复合涂层在 3.5%NaCl', '溶液中浸泡 120 h 后的极化曲线',
        'Fig. 9　Polarization curves of epoxy composite coatings',
        'modified by PBN with different content immersed in', '3.5% NaCl solution after 120 h']
for s, y in zip(cap9, [2376, 2423, 2477, 2524, 2570]):
    ftext(1661, y, s, fontsize=26.5, ha='center', va='center')

# ---- Table 2
t2 = ['表 2　添加不同含量 PBN 改性环氧涂层在 3.5%NaCl 溶液中', '浸泡 120 h 后拟合得到的极化曲线参数',
      'Table 2　Parameters of polarization curves of the',
      'epoxy coating modified by PBN with different content after', 'immersed in 3.5%NaCl solution for 120 h']
for s, y in zip(t2, [2639, 2692, 2746, 2799, 2852]):
    ftext(1663, y, s, fontsize=26.5, fontweight='bold', ha='center', va='center')
hline(1147, 2172, 2879, lw=2.6)
hline(1147, 2172, 2937, lw=1.1)
hline(1147, 2172, 3170, lw=2.6)
col_x = [1329, 1660, 1983]
TAB_FS = 25
ftext(col_x[0], 2908, '涂层', fontsize=TAB_FS, ha='center', va='center')
ftext(col_x[1], 2908, r"$E_{\rm corr}$/V", fontsize=TAB_FS, ha='center', va='center')
ftext(col_x[2], 2908, r"$J_{\rm corr}$/ ( A · cm$^{-2}$ )", fontsize=TAB_FS, ha='center', va='center')
for i, (co, e, m, ex) in enumerate(zip(tab_coating, tab_ecorr, tab_jcorr_mant, tab_jcorr_exp)):
    y = 2967 + 58 * i
    ftext(col_x[0], y, co, fontsize=TAB_FS, ha='center', va='center')
    ftext(col_x[1], y, '−%.2f' % abs(e), fontsize=TAB_FS, ha='center', va='center')
    ftext(col_x[2], y, '%.2f×10$^{%d}$' % (m, ex), fontsize=TAB_FS, ha='center', va='center')

hline(42, 2177, 3255, lw=4.5, color='#aaaaaa')

# ---- body text (justified)
BODY_FS = 32
EM = BODY_FS * 100 / 72.0
CJK_RE = r'[\u3000-\u303f\u4e00-\u9fff\uff00-\uffef]'
renderer = fig.canvas.get_renderer()
X0, X1 = 42, 1062
for i, line in enumerate(body_lines):
    ybase = 1731 + 71.3 * i + 0.34 * EM
    parts = re.findall(CJK_RE + '|[^\u3000-\u303f\u4e00-\u9fff\uff00-\uffef]+', line)
    toks = []
    for p in parts:
        if re.fullmatch(CJK_RE, p):
            t = ftext(0, ybase, p, fontsize=BODY_FS, va='baseline',
                      ha='left' if p in '。，、' else 'center')
            toks.append([t, 'cjk', EM, False, False])
        else:
            s = p.strip()
            t = ftext(0, ybase, s, fontsize=BODY_FS, va='baseline', ha='left')
            w = t.get_window_extent(renderer=renderer).width
            toks.append([t, 'lat', w, p.startswith(' '), p.endswith(' ')])
    nat = []
    for a, b in zip(toks[:-1], toks[1:]):
        nat.append(0.28 * EM if (a[4] or b[3]) else 0.0)
    start = X0 + (2 * EM if i in body_indent else 0)
    total = sum(t[2] for t in toks) + sum(nat)
    extra = 0.0
    if i not in body_last and len(toks) > 1:
        extra = (X1 - start - total) / (len(toks) - 1)
    x = start
    for k, tk in enumerate(toks):
        t, kind, w = tk[0], tk[1], tk[2]
        if kind == 'cjk':
            if t.get_text() in '。，、':
                t.set_x((x + 0.08 * EM) / W)
            else:
                t.set_x((x + w / 2) / W)
        else:
            t.set_x(x / W)
        x += w
        if k < len(nat):
            x += nat[k] + extra

fig.savefig('out.png', dpi=100, facecolor='white')
